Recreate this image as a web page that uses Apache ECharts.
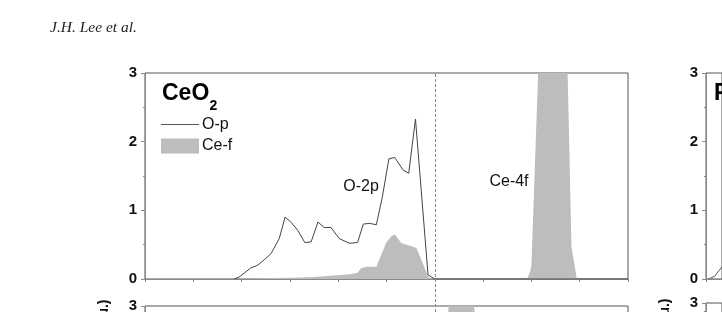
<!DOCTYPE html>
<html><head><meta charset="utf-8">
<script src="https://cdn.jsdelivr.net/npm/echarts@6/dist/echarts.min.js"></script>
<style>html,body{margin:0;padding:0;background:#fff}#c{width:722px;height:312px}</style>
</head><body><div id="c"></div><script>
// Energy axis (eV) and DOS values
const xTickMin = -6, xTickMax = 4, xTickStep = 1;
const yTickMin = 0, yTickMax = 3, yTickStep = 1;

const opEnergy = [-4.15,-4.05,-3.81,-3.67,-3.53,-3.39,-3.22,-3.10,-2.98,-2.84,-2.69,-2.56,-2.42,-2.29,-2.15,-1.98,-1.77,-1.73,-1.60,-1.48,-1.35,-1.21,-1.09,-0.95,-0.83,-0.66,-0.54,-0.40,-0.14,0.0,0.05,4.0];
const opValue  = [0,0.03,0.16,0.20,0.28,0.37,0.59,0.90,0.83,0.71,0.53,0.54,0.83,0.75,0.75,0.59,0.52,0.50,0.53,0.80,0.81,0.79,1.18,1.75,1.77,1.59,1.54,2.33,0.06,0,0,0];

const cefEnergy = [-4.0,-3.5,-3.0,-2.5,-2.1,-1.75,-1.6,-1.52,-1.4,-1.21,-1.18,-1.0,-0.90,-0.83,-0.69,-0.45,-0.38,-0.14,-0.08,1.91,1.97,2.0,2.14,2.3,2.5,2.7,2.75,2.83,2.94];
const cefValue  = [0,0.01,0.02,0.03,0.05,0.07,0.09,0.16,0.18,0.18,0.18,0.54,0.62,0.65,0.52,0.47,0.45,0.04,0,0,0.1,0.2,3.0,4.6,5.2,4.2,3.0,0.47,0];

const lowCefEnergy = [0.18,0.30,0.55,0.80,0.92];
const lowCefValue  = [0,3.3,5.0,3.3,0];

const rightEnergy = [-5.94,-5.81,-5.67,-5.62];
const rightValue  = [0,0.04,0.16,0.20];

const zip = (a,b) => a.map((v,i)=>[v,b[i]]);

const FONT = 'Arial, "Liberation Sans", sans-serif';
const axisGray = '#8a8a8a';
const fillGray = '#bdbdbd';
const pxPerEv = 48.3;           // horizontal scale of the panels
const rightVisibleWidth = 17;   // visible part of the right-hand panel

function xAx(gi, show, maxV){
  return {gridIndex:gi, type:'value', min:xTickMin, max:(maxV===undefined?xTickMax:maxV), interval:xTickStep, show:show,
    axisLine:{show:true, onZero:false, lineStyle:{color:axisGray,width:1}},
    axisTick:{show:true, length:3, lineStyle:{color:axisGray}},
    axisLabel:{show:false}, splitLine:{show:false}};
}
function yAx(gi){
  return {gridIndex:gi, type:'value', min:yTickMin, max:yTickMax, interval:yTickStep,
    axisLine:{show:true, onZero:false, lineStyle:{color:axisGray,width:1}},
    axisTick:{show:true, length:4, lineStyle:{color:axisGray}},
    minorTick:{show:true, splitNumber:2, length:2, lineStyle:{color:axisGray}},
    axisLabel:{show:true, margin:8, color:'#111', fontWeight:'bold', fontSize:15, fontFamily:FONT},
    splitLine:{show:false}};
}
const gridBase = {show:true, borderColor:'#555', borderWidth:1, backgroundColor:'transparent', containLabel:false};
const rightMax = xTickMin + rightVisibleWidth / pxPerEv;

const option = {
  animation:false,
  backgroundColor:'#fff',
  grid:[
    Object.assign({left:145, top:73, width:483, height:206}, gridBase),
    Object.assign({left:145, top:306, width:483, height:206}, gridBase),
    Object.assign({left:706, top:73, width:rightVisibleWidth, height:206}, gridBase),
    Object.assign({left:706, top:303, width:rightVisibleWidth, height:206}, gridBase),
    {left:145, top:73, width:483, height:260, show:false}
  ],
  xAxis:[xAx(0,true), xAx(1,true), xAx(2,true,rightMax), xAx(3,true,rightMax), xAx(4,false)],
  yAxis:[yAx(0), yAx(1), yAx(2), yAx(3), {gridIndex:4, type:'value', min:0, max:1, show:false}],
  legend:{
    left:161, top:116.5, orient:'vertical', padding:0, itemGap:5.5,
    itemWidth:38, itemHeight:15,
    textStyle:{fontSize:16, fontFamily:FONT, color:'#111', padding:[0,0,0,-2]},
    data:[{name:'O-p', icon:'path://M0,0H38V1H0Z', itemStyle:{color:'#555'}},
          {name:'Ce-f', icon:'rect', itemStyle:{color:fillGray}}]
  },
  series:[
    {name:'Ce-f', type:'line', xAxisIndex:0, yAxisIndex:0, data:zip(cefEnergy,cefValue),
      showSymbol:false, symbol:'none', lineStyle:{width:0, color:fillGray}, itemStyle:{color:fillGray},
      areaStyle:{color:fillGray, opacity:1}, clip:true, z:2},
    {name:'O-p', type:'line', xAxisIndex:0, yAxisIndex:0, data:zip(opEnergy,opValue),
      showSymbol:false, symbol:'none', lineStyle:{width:1, color:'#444'}, itemStyle:{color:'#444'}, clip:true, z:3},
    {name:'Ce-f low', type:'line', xAxisIndex:1, yAxisIndex:1, data:zip(lowCefEnergy,lowCefValue),
      showSymbol:false, symbol:'none', lineStyle:{width:0}, areaStyle:{color:fillGray, opacity:1}, clip:true},
    {name:'right', type:'line', xAxisIndex:2, yAxisIndex:2, data:zip(rightEnergy,rightValue),
      showSymbol:false, symbol:'none', lineStyle:{width:1, color:'#555'}, clip:true},
    {name:'fermi', type:'line', xAxisIndex:4, yAxisIndex:4, data:[[0,0]], showSymbol:false, symbol:'none',
      lineStyle:{opacity:0}, silent:true, z:5,
      markLine:{silent:true, symbol:'none', label:{show:false},
        lineStyle:{type:[3,2], color:'#8a8a8a', width:1}, data:[{xAxis:0}]}}
  ],
  graphic:[
    {type:'text', x:50, y:28, style:{text:'J.H. Lee et al.', font:'italic 15.5px "Liberation Serif", serif', fill:'#222', textVerticalAlign:'middle', verticalAlign:'middle'}},
    {type:'text', x:162, y:94, style:{text:'CeO', font:'bold 23px '+FONT, fill:'#000', textVerticalAlign:'middle', verticalAlign:'middle'}},
    {type:'text', x:209.5, y:106, style:{text:'2', font:'bold 14px '+FONT, fill:'#000', textVerticalAlign:'middle', verticalAlign:'middle'}},
    {type:'text', x:714, y:94, style:{text:'PrO', font:'bold 23px '+FONT, fill:'#000', textVerticalAlign:'middle', verticalAlign:'middle'}},
    {type:'text', x:361, y:187, style:{text:'O-2p', font:'16px '+FONT, fill:'#111', textAlign:'center', align:'center', textVerticalAlign:'middle', verticalAlign:'middle'}},
    {type:'text', x:509, y:182, style:{text:'Ce-4f', font:'16px '+FONT, fill:'#111', textAlign:'center', align:'center', textVerticalAlign:'middle', verticalAlign:'middle'}},
    {type:'text', x:104, y:299.5, rotation:Math.PI/2, style:{text:'PDOS (a.u.)', font:'bold 14px '+FONT, fill:'#111', textAlign:'right', align:'right', textVerticalAlign:'middle', verticalAlign:'middle'}},
    {type:'text', x:665, y:298.5, rotation:Math.PI/2, style:{text:'PDOS (a.u.)', font:'bold 14px '+FONT, fill:'#111', textAlign:'right', align:'right', textVerticalAlign:'middle', verticalAlign:'middle'}}
  ]
};
const chart = echarts.init(document.getElementById('c'), null, {renderer:'canvas'});
chart.setOption(option);
</script></body></html>
